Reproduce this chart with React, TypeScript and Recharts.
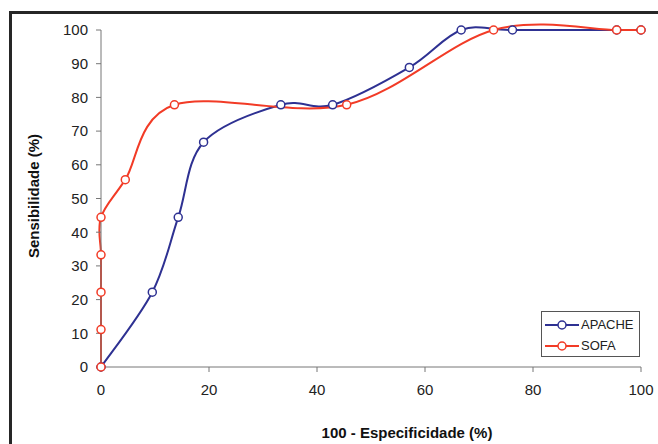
import { LineChart, Line, XAxis, YAxis } from "recharts";

const apacheX = [0, 9.5, 14.3, 19, 33.3, 42.9, 57.1, 66.7, 76.2, 95.5, 100];
const apacheY = [0, 22.2, 44.4, 66.7, 77.8, 77.8, 88.9, 100, 100, 100, 100];
const sofaX = [0, 0, 0, 0, 0, 4.5, 13.6, 45.5, 72.7, 95.5, 100];
const sofaY = [0, 11.1, 22.2, 33.3, 44.4, 55.6, 77.8, 77.8, 100, 100, 100];
const xTicks = [0, 20, 40, 60, 80, 100];
const yTicks = [0, 10, 20, 30, 40, 50, 60, 70, 80, 90, 100];

const BLUE = "#2e3192";
const RED = "#f23b26";
const FONT = "Arial, 'Liberation Sans', sans-serif";

const apache = apacheX.map((x, i) => ({ x, y: apacheY[i] }));
const sofa = sofaX.map((x, i) => ({ x, y: sofaY[i] }));

// Excel-like smoothed line (Catmull-Rom style bezier)
function excelCurve(context: any) {
  let pts: number[][] = [];
  return {
    areaStart() {},
    areaEnd() {},
    lineStart() {
      pts = [];
    },
    point(x: number, y: number) {
      pts.push([+x, +y]);
    },
    lineEnd() {
      if (!pts.length) return;
      context.moveTo(pts[0][0], pts[0][1]);
      for (let i = 0; i < pts.length - 1; i++) {
        const p0 = pts[i - 1] || pts[i];
        const p1 = pts[i];
        const p2 = pts[i + 1];
        const p3 = pts[i + 2] || p2;
        context.bezierCurveTo(
          p1[0] + (p2[0] - p0[0]) / 6,
          p1[1] + (p2[1] - p0[1]) / 6,
          p2[0] - (p3[0] - p1[0]) / 6,
          p2[1] - (p3[1] - p1[1]) / 6,
          p2[0],
          p2[1]
        );
      }
    },
  };
}

function LegendBox() {
  const rows = [
    { name: "APACHE", color: BLUE },
    { name: "SOFA", color: RED },
  ];
  return (
    <div
      style={{
        position: "absolute",
        left: 541,
        top: 311,
        width: 99,
        height: 46,
        border: "1px solid #555",
        background: "#fff",
        boxSizing: "border-box",
        paddingTop: 2,
      }}
    >
      {rows.map((r) => (
        <div key={r.name} style={{ display: "flex", alignItems: "center", height: 21, fontFamily: FONT, fontSize: 13, color: "#222" }}>
          <svg width={38} height={12} style={{ marginLeft: 3 }}>
            <line x1={0} y1={6} x2={34} y2={6} stroke={r.color} strokeWidth={2} />
            <circle cx={17} cy={6} r={4} fill="#fff" stroke={r.color} strokeWidth={1.5} />
          </svg>
          <span style={{ marginLeft: -2 }}>{r.name}</span>
        </div>
      ))}
    </div>
  );
}

export default function App() {
  return (
    <div style={{ position: "absolute", left: 0, top: 0, width: 658, height: 444, background: "#fff", overflow: "hidden" }}>
      <div
        style={{
          position: "absolute",
          left: 9,
          top: 11,
          width: 660,
          height: 440,
          border: "3px solid #262626",
        }}
      />
      <LineChart
        width={658}
        height={444}
        margin={{ top: 30, right: 17, bottom: 0, left: 0 }}
        style={{ position: "absolute", left: 0, top: 0 }}
      >
        <XAxis
          type="number"
          dataKey="x"
          domain={[0, 100]}
          ticks={xTicks}
          interval={0}
          height={77}
          tickSize={5}
          tickMargin={12}
          stroke="#777"
          tick={{ fill: "#222", fontSize: 15, fontFamily: FONT }}
          label={{
            value: "100 - Especificidade (%)",
            position: "insideBottom",
            offset: 6,
            dx: 36,
            style: { fill: "#111", fontSize: 15, fontWeight: "bold", fontFamily: FONT },
          }}
        />
        <YAxis
          type="number"
          dataKey="y"
          domain={[0, 100]}
          ticks={yTicks}
          interval={0}
          width={101}
          tickSize={5}
          tickMargin={8}
          stroke="#777"
          tick={{ fill: "#222", fontSize: 15, fontFamily: FONT }}
          label={{
            content: () => (
              <text
                x={33}
                y={196}
                transform="rotate(-90 33 196)"
                textAnchor="middle"
                dominantBaseline="central"
                fill="#111"
                fontSize={15}
                fontWeight="bold"
                fontFamily={FONT}
              >
                Sensibilidade (%)
              </text>
            ),
          }}
        />
        <Line
          data={apache}
          dataKey="y"
          name="APACHE"
          type={excelCurve as any}
          stroke={BLUE}
          strokeWidth={2}
          dot={{ r: 4, fill: "#fff", stroke: BLUE, strokeWidth: 1.5 }}
          isAnimationActive={false}
        />
        <Line
          data={sofa}
          dataKey="y"
          name="SOFA"
          type={excelCurve as any}
          stroke={RED}
          strokeWidth={2}
          dot={{ r: 4, fill: "#fff", stroke: RED, strokeWidth: 1.5 }}
          isAnimationActive={false}
        />
      </LineChart>
      <LegendBox />
    </div>
  );
}
